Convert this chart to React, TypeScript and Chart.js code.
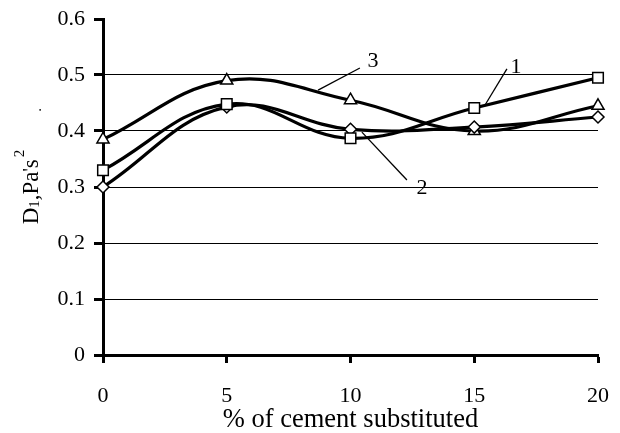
import React, { useEffect, useRef } from 'react';
import { Chart, registerables } from 'chart.js';

Chart.register(...registerables);

// ---- data ----
const substitution = [0, 5, 10, 15, 20];
const series1 = [0.33, 0.448, 0.387, 0.441, 0.495];
const series2 = [0.3, 0.443, 0.403, 0.407, 0.425];
const series3 = [0.385, 0.49, 0.455, 0.4, 0.445];
const seriesNames = ['1', '2', '3'];
const yTickValues = [0, 0.1, 0.2, 0.3, 0.4, 0.5, 0.6];
const xTickValues = [0, 5, 10, 15, 20];
const xTitle = '% of cement substituted';

// curve labels with leader lines (in data coordinates)
const curveLabelText = ['1', '2', '3'];
const curveLabelAt = [
  [16.69, 0.514],
  [12.89, 0.298],
  [10.91, 0.525],
];
const leaderFrom = [
  [15.43, 0.446],
  [10.46, 0.398],
  [8.69, 0.473],
];
const leaderTo = [
  [16.32, 0.511],
  [12.28, 0.3125],
  [10.38, 0.5125],
];

const FAMILY = '"Liberation Serif", "Times New Roman", serif';

const annotationPlugin = {
  id: 'curveLabels',
  afterDatasetsDraw(chart: any) {
    const { ctx, scales } = chart;
    const x = scales.x;
    const y = scales.y;
    ctx.save();
    ctx.strokeStyle = '#000';
    ctx.lineWidth = 1.3;
    for (let i = 0; i < curveLabelText.length; i++) {
      ctx.beginPath();
      ctx.moveTo(x.getPixelForValue(leaderFrom[i][0]), y.getPixelForValue(leaderFrom[i][1]));
      ctx.lineTo(x.getPixelForValue(leaderTo[i][0]), y.getPixelForValue(leaderTo[i][1]));
      ctx.stroke();
      ctx.fillStyle = '#000';
      ctx.font = `22px ${FAMILY}`;
      ctx.textAlign = 'center';
      ctx.textBaseline = 'middle';
      ctx.fillText(
        curveLabelText[i],
        x.getPixelForValue(curveLabelAt[i][0]),
        y.getPixelForValue(curveLabelAt[i][1])
      );
    }
    ctx.restore();
  },
};

const yTitlePlugin = {
  id: 'yTitle',
  afterDraw(chart: any) {
    const { ctx, chartArea } = chart;
    const segs: [string, number, number, number][] = [
      // text, size, baseline shift (+ = down in text frame), extra gap before
      ['D', 23, 0, 0],
      ['1', 15, 1, 0],
      [',', 23, 0, 0],
      ['Pa', 23, 0, 0],
      ["'", 18, -2, 0],
      ['s', 23, 0, 0],
      ['2', 15, -14, 2],
    ];
    ctx.save();
    let total = 0;
    for (const s of segs) {
      ctx.font = `${s[1]}px ${FAMILY}`;
      total += ctx.measureText(s[0]).width + s[3];
    }
    const cy = (chartArea.top + chartArea.bottom) / 2;
    ctx.translate(38, cy + total / 2);
    ctx.rotate(-Math.PI / 2);
    ctx.fillStyle = '#000';
    ctx.textAlign = 'left';
    ctx.textBaseline = 'alphabetic';
    let px = 0;
    for (const s of segs) {
      px += s[3];
      ctx.font = `${s[1]}px ${FAMILY}`;
      ctx.fillText(s[0], px, s[2]);
      px += ctx.measureText(s[0]).width;
    }
    ctx.font = `15px ${FAMILY}`;
    ctx.fillText('.', px + 38, 3);
    ctx.restore();
  },
};

export default function App() {
  const ref = useRef<HTMLCanvasElement | null>(null);

  useEffect(() => {
    document.body.style.margin = '0';
    const canvas = ref.current;
    if (!canvas) return;
    const mk = (data: number[], style: string, radius: number) => ({
      data: substitution.map((x, i) => ({ x, y: data[i] })),
      borderColor: '#000',
      borderWidth: 3.2,
      pointStyle: style,
      pointRadius: radius,
      pointBackgroundColor: '#fff',
      pointBorderColor: '#000',
      pointBorderWidth: 1.5,
      tension: 0.4,
      fill: false,
      clip: false as any,
    });
    const chart = new Chart(canvas, {
      type: 'line',
      data: {
        datasets: [
          { label: seriesNames[0], ...mk(series1, 'rect', 7.5) },
          { label: seriesNames[1], ...mk(series2, 'rectRot', 6) },
          { label: seriesNames[2], ...mk(series3, 'triangle', 7) },
        ],
      },
      options: {
        responsive: false,
        animation: false,
        layout: { padding: { top: 19, right: 22, left: 0, bottom: 0 } },
        plugins: {
          legend: { display: false },
          tooltip: { enabled: false },
        },
        scales: {
          x: {
            type: 'linear',
            min: 0,
            max: 20,
            afterBuildTicks: (s: any) => {
              s.ticks = xTickValues.map((v) => ({ value: v }));
            },
            afterFit: (s: any) => {
              s.height = 78;
              s.paddingLeft = 0;
              s.paddingRight = 0;
            },
            ticks: {
              color: '#000',
              font: { family: FAMILY, size: 22 },
              padding: 20,
              maxRotation: 0,
            },
            grid: {
              drawOnChartArea: false,
              drawTicks: true,
              tickLength: 8,
              tickWidth: 3,
              tickColor: '#000',
            },
            border: { display: true, width: 3, color: '#000' },
            title: {
              display: true,
              text: xTitle,
              color: '#000',
              font: { family: FAMILY, size: 26.5, lineHeight: 1.0 },
              padding: { top: 0, bottom: 0 },
            },
          },
          y: {
            min: 0,
            max: 0.6,
            afterBuildTicks: (s: any) => {
              s.ticks = yTickValues.map((v) => ({ value: v }));
            },
            afterFit: (s: any) => {
              s.width = 103;
              s.paddingTop = 0;
              s.paddingBottom = 0;
            },
            ticks: {
              color: '#000',
              font: { family: FAMILY, size: 22 },
              padding: 9,
              callback: (v: any) => (Number(v) === 0 ? '0' : Number(v).toFixed(1)),
            },
            grid: {
              color: (c: any) => (c.tick && Math.abs(c.tick.value - 0.6) < 1e-9 ? 'rgba(0,0,0,0)' : '#000'),
              lineWidth: 1,
              drawTicks: true,
              tickLength: 9,
              tickWidth: 3,
              tickColor: '#000',
            },
            border: { display: true, width: 3, color: '#000' },
          },
        },
      },
      plugins: [annotationPlugin, yTitlePlugin],
    } as any);
    return () => chart.destroy();
  }, []);

  return (
    <div style={{ width: 620, height: 433, background: '#fff' }}>
      <canvas ref={ref} width={620} height={433} style={{ display: 'block' }} />
    </div>
  );
}
